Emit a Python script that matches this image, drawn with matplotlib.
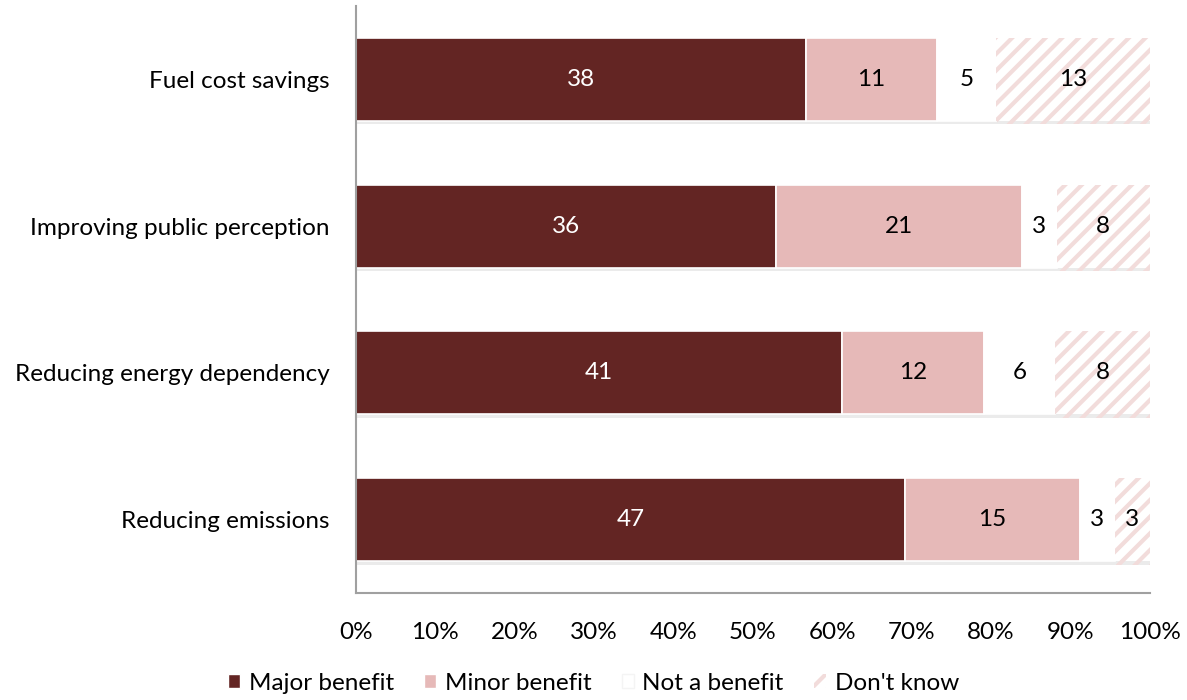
import numpy as np
import matplotlib
matplotlib.use('Agg')
from matplotlib import pyplot as plt
from matplotlib import patheffects as pe
from matplotlib.patches import Patch

plt.rcParams['font.family'] = ['Lato', 'DejaVu Sans']
plt.rcParams['hatch.linewidth'] = 3.0

categories = ['Reducing emissions', 'Reducing energy dependency',
              'Improving public perception', 'Fuel cost savings']
major = [47, 41, 36, 38]
minor = [15, 12, 21, 11]
not_benefit = [3, 6, 3, 5]
dont_know = [3, 8, 8, 13]

series = [
    ('Major benefit', major, '#632523', 'white'),
    ('Minor benefit', minor, '#E6B9B8', 'black'),
    ('Not a benefit', not_benefit, 'white', 'black'),
    ("Don't know", dont_know, 'white', 'black'),
]

counts = np.array([major, minor, not_benefit, dont_know], dtype=float)
totals = counts.sum(axis=0)
shares = counts / totals

FS = 17.5

fig = plt.figure(figsize=(11.87, 7.0), dpi=100)
ax = fig.add_axes([0.2999, 0.1529, 0.6689, 0.8385])

y = np.arange(len(categories))
shadow = [pe.SimplePatchShadow(offset=(1, -2.5), shadow_rgbFace='#b0b0b0', alpha=0.25), pe.Normal()]
left = np.zeros(len(categories))
for i, (name, vals, color, tcolor) in enumerate(series):
    if name == "Don't know":
        bars = ax.barh(y, shares[i], left=left, height=0.566, color='white',
                       edgecolor='#F2DCDB', hatch='//', linewidth=0)
    else:
        bars = ax.barh(y, shares[i], left=left, height=0.566, color=color,
                       edgecolor='white', linewidth=1.2)
    for b in bars:
        b.set_path_effects(shadow)
    for j, v in enumerate(vals):
        ax.text(left[j] + shares[i][j] / 2, y[j], str(v), ha='center', va='center',
                color=tcolor, fontsize=FS)
    left += shares[i]

ax.set_xlim(0, 1)
ax.set_ylim(-0.5, 3.5)
ax.set_yticks(y)
ax.set_yticklabels(categories, fontsize=FS)
ticks = np.linspace(0, 1, 11)
ax.set_xticks(ticks)
ax.set_xticklabels(['%d%%' % round(t * 100) for t in ticks], fontsize=FS)
ax.tick_params(axis='both', length=0)
ax.tick_params(axis='x', pad=21)
ax.tick_params(axis='y', pad=19)
for s in ['top', 'right']:
    ax.spines[s].set_visible(False)
for s in ['left', 'bottom']:
    ax.spines[s].set_color('#a0a0a0')
    ax.spines[s].set_linewidth(1.5)

handles = [
    Patch(facecolor='#632523', edgecolor='white'),
    Patch(facecolor='#E6B9B8', edgecolor='white'),
    Patch(facecolor='white', edgecolor='#f4f4f4'),
    Patch(facecolor='white', edgecolor='#F2DCDB', hatch='//', linewidth=0),
]
fig.legend(handles, [s[0] for s in series], loc='center', bbox_to_anchor=(0.5, 0.024),
           ncol=4, frameon=False, fontsize=FS, handlelength=0.5, handleheight=0.5,
           handletextpad=0.35, columnspacing=1.25)

fig.savefig('out.png', dpi=100)
